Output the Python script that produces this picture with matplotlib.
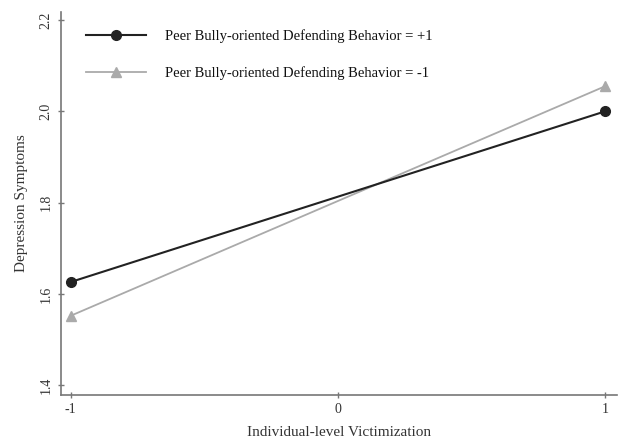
import matplotlib
matplotlib.use("Agg")
import matplotlib.pyplot as plt

# data
victim = [-1, 1]
defend_hi = [1.626, 2.0]
defend_lo = [1.552, 2.055]
labels = ["Peer Bully-oriented Defending Behavior = +1",
          "Peer Bully-oriented Defending Behavior = -1"]
xticks = [-1, 0, 1]
yticks = [1.4, 1.6, 1.8, 2.0, 2.2]

plt.rcParams['font.family'] = ['Liberation Serif', 'DejaVu Serif']

fig = plt.figure(figsize=(6.2, 4.44), dpi=100)
ax = fig.add_axes([0.098, 0.110, 0.897, 0.863])

ax.plot(victim, defend_hi, color='#222222', lw=1.5, marker='o', ms=7,
        label=labels[0], clip_on=False, zorder=3)
ax.plot(victim, defend_lo, color='#aaaaaa', lw=1.3, marker='^', ms=7,
        label=labels[1], clip_on=False, zorder=2)

ax.set_xlim(-1.037, 1.045)
ax.set_ylim(1.378, 2.218)
ax.set_xticks(xticks)
ax.set_xticklabels([str(v) for v in xticks])
ax.set_yticks(yticks)
ax.set_yticklabels(["%.1f" % v for v in yticks], rotation=90, va='center')

for s in ['top', 'right']:
    ax.spines[s].set_visible(False)
for s in ['left', 'bottom']:
    ax.spines[s].set_color('#777777')
    ax.spines[s].set_linewidth(1.2)
ax.tick_params(direction='inout', length=5, width=1, colors='#777777',
               labelcolor='#333333', labelsize=10)

ax.set_xlabel("Individual-level Victimization", fontsize=11, color='#333333',
              labelpad=7)
ax.set_ylabel("Depression Symptoms", fontsize=11, color='#333333', labelpad=8)

ax.legend(loc='upper left', bbox_to_anchor=(0.022, 0.988), frameon=False,
          fontsize=10.5, handlelength=4.1, handletextpad=1.3,
          labelspacing=1.55, labelcolor='#111111')

fig.savefig("out.png", dpi=100)
